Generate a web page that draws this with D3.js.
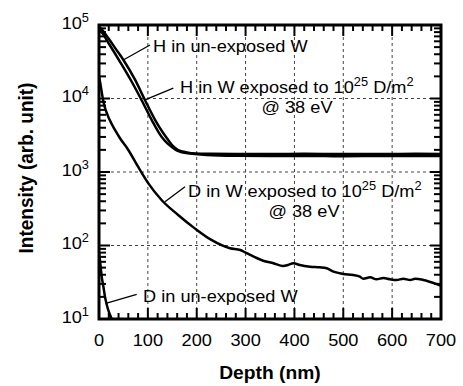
<!DOCTYPE html>
<html>
<head>
<meta charset="utf-8">
<script src="https://cdn.jsdelivr.net/npm/d3@7"></script>
<style>
  body { margin: 0; background: #fff; }
  svg { display: block; font-family: "Liberation Sans", Arial, sans-serif; }
</style>
</head>
<body>
<svg id="chart" width="463" height="386"></svg>
<script>
//Depth (nm) and intensity (arb. unit), one pair per curve
let depthHUnexp = [0, 5, 20, 35, 50, 74, 94, 115, 130, 139, 150, 162, 180, 197, 230, 280, 350, 420, 500, 580, 650, 700];
let intHUnexp = [95000, 88000, 65000, 46600, 33400, 17900, 9550, 5090, 3500, 2880, 2300, 1990, 1850, 1790, 1770, 1760, 1760, 1765, 1760, 1760, 1765, 1760];

let depthHExp = [0, 5, 20, 43, 67, 87, 108, 128, 140, 149, 160, 170, 186, 220, 280, 350, 420, 500, 580, 650, 700];
let intHExp = [85000, 80000, 56000, 31600, 16900, 9550, 5090, 3020, 2450, 2190, 1950, 1850, 1780, 1700, 1660, 1650, 1650, 1640, 1650, 1650, 1650];

let depthDExp = [0, 2, 9, 22, 33, 43, 60, 80, 101, 128, 162, 196, 230, 268, 289, 299, 336, 357, 377, 387, 398, 411, 432, 452, 466, 480, 500, 520, 534, 541, 555, 568, 582, 596, 609, 623, 637, 647, 664, 691, 700];
let intDExp = [20000, 17000, 9060, 5090, 3700, 2880, 1995, 1180, 700, 416, 260, 171, 119, 91.7, 86.9, 80.7, 62.1, 57.3, 52.6, 54.3, 57.3, 54.3, 51.5, 50.5, 49, 44, 41, 39.7, 37.7, 35.3, 36.9, 34.7, 36.1, 34.7, 34, 35.3, 34, 35.3, 34, 29.9, 28.4];

let depthDUnexp = [0, 2, 5.5, 9, 12.3, 15.5, 19, 22.5, 26];
let intDUnexp = [80, 63, 38, 27.5, 20, 16, 13.2, 11.4, 10];

//Axis tick values
let xMajor = [0, 100, 200, 300, 400, 500, 600, 700];
let xMinorStep = 20;
let yExponents = [1, 2, 3, 4, 5];
let xGrid = [100, 200, 300, 400, 500, 600];
let yGrid = [100, 1000, 10000];

//Set margins and plot size
let margin = { top: 25, right: 22, bottom: 67, left: 99 };
let plotW = 463 - margin.left - margin.right;
let plotH = 386 - margin.top - margin.bottom;
let sx = 1.07; //the picture is a bit wider than tall, stretch text the same way

let svg = d3.select("#chart");
let xScale = d3.scaleLinear().domain([0, 700]).range([margin.left, margin.left + plotW]);
let yScale = d3.scaleLog().domain([10, 1e5]).range([margin.top + plotH, margin.top]);
let edgeL = margin.left, edgeR = margin.left + plotW, edgeT = margin.top, edgeB = margin.top + plotH;

//clip for the curves
svg.append("clipPath").attr("id", "plotclip")
  .append("rect").attr("x", edgeL).attr("y", edgeT).attr("width", plotW).attr("height", plotH);

//dashed grid lines
svg.selectAll(".vgrid").data(xGrid).enter().append("line")
  .attr("class", "vgrid")
  .attr("x1", d => xScale(d)).attr("x2", d => xScale(d))
  .attr("y1", edgeT).attr("y2", edgeB)
  .attr("stroke", "#444").attr("stroke-width", 1).attr("stroke-dasharray", "3,3");
svg.selectAll(".hgrid").data(yGrid).enter().append("line")
  .attr("class", "hgrid")
  .attr("x1", edgeL).attr("x2", edgeR)
  .attr("y1", d => yScale(d)).attr("y2", d => yScale(d))
  .attr("stroke", "#444").attr("stroke-width", 1).attr("stroke-dasharray", "3,3");

//curves
let curve = d3.line()
  .x(d => xScale(d[0]))
  .y(d => yScale(d[1]))
  .curve(d3.curveMonotoneX);

let series = [
  [depthHUnexp, intHUnexp],
  [depthHExp, intHExp],
  [depthDExp, intDExp],
  [depthDUnexp, intDUnexp]
];
svg.append("g").attr("clip-path", "url(#plotclip)")
  .selectAll(".curve").data(series).enter().append("path")
  .attr("class", "curve")
  .attr("d", d => curve(d3.zip(d[0], d[1])))
  .attr("fill", "none")
  .attr("stroke", "#000")
  .attr("stroke-width", 2.5)
  .attr("stroke-linejoin", "round");

//frame
svg.append("rect").attr("x", edgeL).attr("y", edgeT).attr("width", plotW).attr("height", plotH)
  .attr("fill", "none").attr("stroke", "#000").attr("stroke-width", 3);

//ticks, all pointing inward: major 11px, minor 6-7px
let xTicks = d3.range(0, 701, xMinorStep).map(d => ({ v: d, len: d % 100 === 0 ? 11 : 6 }));
let yTicks = [];
yExponents.forEach(function (e) {
  yTicks.push({ v: Math.pow(10, e), len: 11 });
  if (e < 5) for (let k = 2; k <= 9; k++) yTicks.push({ v: k * Math.pow(10, e), len: 7 });
});

svg.selectAll(".xtb").data(xTicks).enter().append("line").attr("class", "xtb")
  .attr("x1", d => xScale(d.v)).attr("x2", d => xScale(d.v))
  .attr("y1", edgeB).attr("y2", d => edgeB - d.len)
  .attr("stroke", "#000").attr("stroke-width", 2);
svg.selectAll(".xtt").data(xTicks).enter().append("line").attr("class", "xtt")
  .attr("x1", d => xScale(d.v)).attr("x2", d => xScale(d.v))
  .attr("y1", edgeT).attr("y2", d => edgeT + d.len)
  .attr("stroke", "#000").attr("stroke-width", 2);
svg.selectAll(".ytl").data(yTicks).enter().append("line").attr("class", "ytl")
  .attr("y1", d => yScale(d.v)).attr("y2", d => yScale(d.v))
  .attr("x1", edgeL).attr("x2", d => edgeL + d.len)
  .attr("stroke", "#000").attr("stroke-width", 2);
svg.selectAll(".ytr").data(yTicks).enter().append("line").attr("class", "ytr")
  .attr("y1", d => yScale(d.v)).attr("y2", d => yScale(d.v))
  .attr("x1", edgeR).attr("x2", d => edgeR - d.len)
  .attr("stroke", "#000").attr("stroke-width", 2);

//pointer lines, ends given as (depth, intensity)
let pointers = [
  [[49.7, 33400], [104.4, 53400]],
  [[94.1, 9550], [152.1, 13800]],
  [[135.1, 394], [176, 631]],
  [[15.8, 16.4], [77.2, 21.7]]
];
svg.selectAll(".pointer").data(pointers).enter().append("line")
  .attr("class", "pointer")
  .attr("x1", d => xScale(d[0][0])).attr("y1", d => yScale(d[0][1]))
  .attr("x2", d => xScale(d[1][0])).attr("y2", d => yScale(d[1][1]))
  .attr("stroke", "#000").attr("stroke-width", 1.3);

//text helper: parts are [string, isSuperscript]
function addText(px, py, anchor, parts, size, weight, rotate) {
  let t = svg.append("text")
    .attr("transform", "translate(" + px + "," + py + ")" + (rotate ? " rotate(-90) scale(1," + sx + ")" : " scale(" + sx + ",1)"))
    .attr("text-anchor", anchor)
    .style("font-size", size + "px")
    .style("font-weight", weight || "normal")
    .attr("fill", "#000");
  let up = false;
  parts.forEach(function (p) {
    let s = t.append("tspan").text(p[0]);
    if (p[1]) { s.attr("dy", -7).style("font-size", Math.round(size * 0.68) + "px"); up = true; }
    else if (up) { s.attr("dy", 7); up = false; }
  });
  return t;
}

//x tick labels
xMajor.forEach(function (d) {
  addText(xScale(d), 346, "middle", [[String(d)]], 17);
});
//y tick labels
yExponents.forEach(function (e) {
  addText(89, yScale(Math.pow(10, e)) + 3.5, "end", [["10"], [String(e), true]], 17);
});

//axis titles
addText((edgeL + edgeR) / 2, 379, "middle", [["Depth (nm)"]], 18, "bold");
addText(33, 168, "middle", [["Intensity (arb. unit)"]], 19, "bold", true);

//annotations
addText(153, 52, "start", [["H in un-exposed W"]], 17);
addText(180, 93, "start", [["H in W exposed to 10"], ["25", true], [" D/m"], ["2", true]], 17);
addText(297, 113, "middle", [["@ 38 eV"]], 17);
addText(188, 197, "start", [["D in W exposed to 10"], ["25", true], [" D/m"], ["2", true]], 17);
addText(304, 217, "middle", [["@ 38 eV"]], 17);
addText(143, 302, "start", [["D in un-exposed W"]], 17);
</script>
</body>
</html>
